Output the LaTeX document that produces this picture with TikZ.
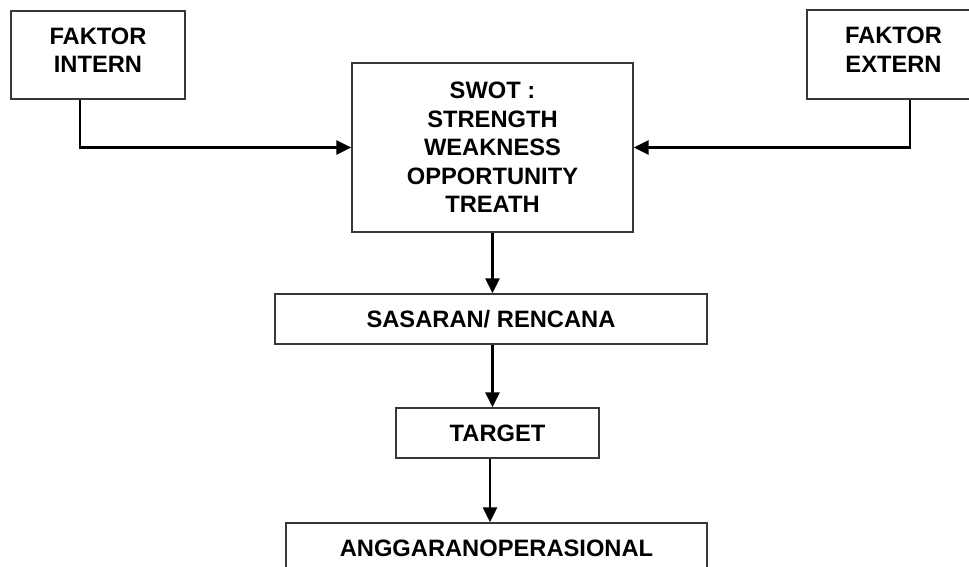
\documentclass[tikz,border=0pt]{standalone}
\usepackage{fontspec}
\setmainfont{Liberation Sans}
\usetikzlibrary{arrows.meta,calc}

\tikzset{
  box/.style={draw=black!78, line width=1.3pt, fill=white, inner sep=0pt,
    font=\bfseries\fontsize{23.7pt}{28.5pt}\selectfont, align=center},
  flow/.style={draw=black, line width=2.4pt,
    -{Triangle[length=15pt,width=14pt]}}
}

\begin{document}
\begin{tikzpicture}[x=1pt,y=-1pt]
  \useasboundingbox (0,0) rectangle (969,567);

  % input boxes
  \node[box, minimum width=174pt, minimum height=88pt, text depth=10pt]
    (intern) at (98,55) {FAKTOR\\INTERN};
  \node[box, minimum width=173pt, minimum height=89pt, text depth=10pt]
    (extern) at (893.5,54.5) {FAKTOR\\EXTERN};

  % analysis and planning chain
  \node[box, minimum width=281pt, minimum height=169pt]
    (swot) at (492.5,147.5) {SWOT :\\STRENGTH\\WEAKNESS\\OPPORTUNITY\\TREATH};
  \node[box, minimum width=432pt, minimum height=50pt]
    (sasaran) at (491,319) {SASARAN/ RENCANA};
  \node[box, minimum width=203pt, minimum height=50pt]
    (target) at (497.5,433) {TARGET};
  \node[box, minimum width=421pt, minimum height=50pt]
    (anggaran) at (496.5,548) {ANGGARANOPERASIONAL};

  % connectors
  \coordinate (inFoot) at ($(intern.south)+(-18,0)$);
  \coordinate (exFoot) at ($(extern.south)+(16.5,0)$);
  \coordinate (tgFoot) at ($(target.south)+(-7.5,0)$);

  \draw[flow] (inFoot) |- (swot.west);
  \draw[flow] (exFoot) |- (swot.east);
  \draw[flow] (swot.south) -- (swot.south |- sasaran.north);
  \draw[flow] (swot.south |- sasaran.south) -- (swot.south |- target.north);
  \draw[flow] (tgFoot) -- (tgFoot |- anggaran.north);
\end{tikzpicture}
\end{document}
